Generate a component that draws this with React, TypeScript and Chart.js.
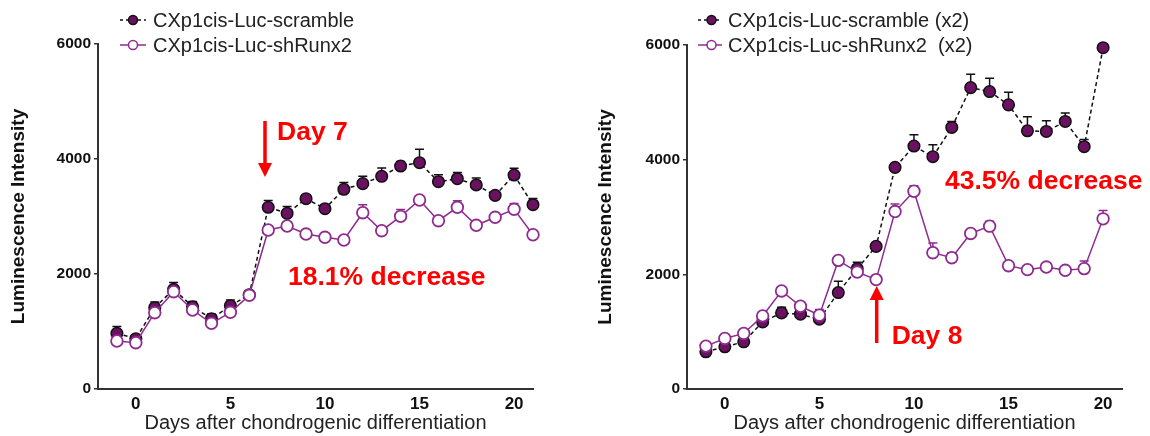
import React, { useEffect, useRef } from "react";
import { Chart, registerables } from "chart.js";

Chart.register(...registerables);

const FONT = "'Liberation Sans', Arial, Helvetica, sans-serif";
const DARK_PURPLE = "#6B1162";
const PURPLE = "#8E2B8E";

// ---------- Data: left panel ----------
const daysLeft = [-1, 0, 1, 2, 3, 4, 5, 6, 7, 8, 9, 10, 11, 12, 13, 14, 15, 16, 17, 18, 19, 20, 21];
const scrambleLeft = [968, 875, 1414, 1734, 1431, 1223, 1449, 1640, 3160, 3055, 3310, 3135, 3473, 3571, 3699, 3878, 3936, 3605, 3657, 3548, 3368, 3721, 3205];
const scrambleLeftErr = [120, 60, 100, 120, 90, 80, 100, 50, 120, 120, 50, 50, 120, 130, 145, 80, 233, 120, 110, 120, 60, 120, 110];
const shRunx2Left = [835, 805, 1327, 1692, 1374, 1142, 1334, 1630, 2765, 2835, 2695, 2638, 2591, 3066, 2753, 3003, 3287, 2927, 3160, 2847, 2986, 3125, 2683];
const shRunx2LeftErr = [50, 50, 50, 50, 50, 50, 50, 50, 50, 50, 50, 50, 50, 140, 50, 120, 50, 50, 115, 50, 50, 100, 50];

// ---------- Data: right panel ----------
const daysRight = [-1, 0, 1, 2, 3, 4, 5, 6, 7, 8, 9, 10, 11, 12, 13, 14, 15, 16, 17, 18, 19, 20];
const scrambleRight = [649, 736, 823, 1170, 1327, 1304, 1217, 1682, 2099, 2487, 3866, 4238, 4052, 4562, 5257, 5188, 4956, 4504, 4492, 4666, 4226, 5953];
const scrambleRightErr = [60, 60, 60, 60, 100, 60, 60, 197, 110, 60, 60, 197, 209, 104, 233, 233, 220, 243, 186, 150, 127, 0];
const shRunx2Right = [748, 882, 969, 1275, 1710, 1443, 1287, 2243, 2040, 1908, 3095, 3449, 2377, 2290, 2713, 2840, 2151, 2082, 2127, 2070, 2099, 2968];
const shRunx2RightErr = [50, 50, 50, 50, 50, 50, 100, 50, 50, 50, 133, 94, 168, 87, 50, 87, 50, 50, 50, 50, 133, 144];

// ---------- Axes ----------
const xTicks = [0, 5, 10, 15, 20];
const yTicks = [0, 2000, 4000, 6000];
const xMin = -2;
const xMax = 21;
const yMin = 0;
const yMax = 6000;

const xTitle = "Days after chondrogenic differentiation";
const yTitle = "Luminescence Intensity";

const legendLeft = ["CXp1cis-Luc-scramble", "CXp1cis-Luc-shRunx2"];
const legendRight = ["CXp1cis-Luc-scramble (x2)", "CXp1cis-Luc-shRunx2  (x2)"];

const errorBarPlugin = {
  id: "errorBars",
  beforeDatasetsDraw(chart: any) {
    const ctx = chart.ctx;
    const xs = chart.scales.x;
    const ys = chart.scales.y;
    chart.data.datasets.forEach((ds: any) => {
      const errs = ds.errors;
      if (!errs) return;
      ctx.save();
      ctx.strokeStyle = ds.errorColor;
      ctx.lineWidth = 1.5;
      ctx.setLineDash([]);
      ds.data.forEach((p: any, j: number) => {
        const e = errs[j];
        if (!e) return;
        const px = xs.getPixelForValue(p.x);
        const py = ys.getPixelForValue(p.y);
        const pe = ys.getPixelForValue(p.y + e);
        ctx.beginPath();
        ctx.moveTo(px, py);
        ctx.lineTo(px, pe);
        ctx.moveTo(px - 4.5, pe);
        ctx.lineTo(px + 4.5, pe);
        ctx.stroke();
      });
      ctx.restore();
    });
  },
};

type PanelProps = {
  days: number[];
  scramble: number[];
  scrambleErr: number[];
  sh: number[];
  shErr: number[];
  legend: string[];
  yAxisWidth: number;
  padRight: number;
  padTop: number;
  yTitlePad: number;
  legendGeom: { x1: number; x2: number; mx: number; tx: number };
  annotations: (ctx: CanvasRenderingContext2D) => void;
};

function drawArrow(ctx: CanvasRenderingContext2D, x: number, yTail: number, yTip: number) {
  const dir = yTip > yTail ? 1 : -1;
  const headLen = 14;
  const headHalf = 7;
  ctx.save();
  ctx.strokeStyle = "#FF0000";
  ctx.fillStyle = "#FF0000";
  ctx.lineWidth = 3.5;
  ctx.beginPath();
  ctx.moveTo(x, yTail);
  ctx.lineTo(x, yTip - dir * headLen);
  ctx.stroke();
  ctx.beginPath();
  ctx.moveTo(x - headHalf, yTip - dir * headLen);
  ctx.lineTo(x + headHalf, yTip - dir * headLen);
  ctx.lineTo(x, yTip);
  ctx.closePath();
  ctx.fill();
  ctx.restore();
}

function redText(ctx: CanvasRenderingContext2D, text: string, x: number, y: number) {
  ctx.save();
  ctx.fillStyle = "#FF0000";
  ctx.font = `bold 26.5px ${FONT}`;
  ctx.textAlign = "left";
  ctx.textBaseline = "middle";
  ctx.fillText(text, x, y);
  ctx.restore();
}

function Panel(props: PanelProps) {
  const ref = useRef<HTMLCanvasElement>(null);
  useEffect(() => {
    if (!ref.current) return;
    const { days, scramble, scrambleErr, sh, shErr, legend, legendGeom } = props;
    const overlay = {
      id: "overlay",
      afterDraw(chart: any) {
        const ctx: CanvasRenderingContext2D = chart.ctx;
        ctx.save();
        const rows = [20, 45];
        rows.forEach((ry, i) => {
          ctx.save();
          ctx.lineWidth = 1.5;
          if (i === 0) {
            ctx.strokeStyle = "#111";
            ctx.setLineDash([3, 3]);
          } else {
            ctx.strokeStyle = PURPLE;
          }
          ctx.beginPath();
          ctx.moveTo(legendGeom.x1, ry);
          ctx.lineTo(legendGeom.x2, ry);
          ctx.stroke();
          ctx.setLineDash([]);
          ctx.beginPath();
          ctx.arc(legendGeom.mx, ry, 4.5, 0, Math.PI * 2);
          if (i === 0) {
            ctx.fillStyle = DARK_PURPLE;
            ctx.strokeStyle = "#111";
          } else {
            ctx.fillStyle = "#fff";
            ctx.strokeStyle = PURPLE;
          }
          ctx.fill();
          ctx.stroke();
          ctx.restore();
          ctx.fillStyle = "#222";
          ctx.font = `20px ${FONT}`;
          ctx.textAlign = "left";
          ctx.textBaseline = "middle";
          ctx.fillText(legend[i], legendGeom.tx, ry + 1);
        });
        props.annotations(ctx);
        ctx.restore();
      },
    };

    const chart = new Chart(ref.current, {
      type: "line",
      data: {
        datasets: [
          {
            label: legend[1],
            data: days.map((d, i) => ({ x: d, y: sh[i] })),
            errors: shErr,
            errorColor: PURPLE,
            borderColor: PURPLE,
            borderWidth: 1.5,
            backgroundColor: "#ffffff",
            pointBackgroundColor: "#ffffff",
            pointBorderColor: PURPLE,
            pointBorderWidth: 1.8,
            pointRadius: 5.8,
            tension: 0,
            clip: false,
            order: 0,
          } as any,
          {
            label: legend[0],
            data: days.map((d, i) => ({ x: d, y: scramble[i] })),
            errors: scrambleErr,
            errorColor: "#111",
            borderColor: "#111",
            borderWidth: 1.5,
            borderDash: [4, 3],
            backgroundColor: DARK_PURPLE,
            pointBackgroundColor: DARK_PURPLE,
            pointBorderColor: "#111",
            pointBorderWidth: 1.5,
            pointRadius: 5.8,
            tension: 0,
            clip: false,
            order: 1,
          } as any,
        ],
      },
      options: {
        animation: false,
        responsive: false,
        maintainAspectRatio: false,
        events: [],
        layout: { padding: { left: 0, top: props.padTop, right: props.padRight, bottom: 0 } },
        plugins: {
          legend: { display: false },
          tooltip: { enabled: false },
          title: { display: false },
        },
        scales: {
          x: {
            type: "linear",
            min: xMin,
            max: xMax,
            afterBuildTicks: (scale: any) => {
              scale.ticks = xTicks.map((v) => ({ value: v }));
            },
            afterFit: (scale: any) => {
              scale.height = 47;
            },
            grid: { display: true, drawOnChartArea: false, drawTicks: false },
            border: { display: true, color: "#333", width: 2 },
            ticks: {
              autoSkip: false,
              maxRotation: 0,
              padding: 5,
              color: "#111",
              font: { family: FONT, size: 17, weight: "bold" },
              callback: (v: any) => String(v),
            },
            title: {
              display: true,
              text: xTitle,
              color: "#222",
              font: { family: FONT, size: 20 },
              padding: { top: 0, bottom: 1 },
            },
          },
          y: {
            type: "linear",
            min: yMin,
            max: yMax,
            afterBuildTicks: (scale: any) => {
              scale.ticks = yTicks.map((v) => ({ value: v }));
            },
            afterFit: (scale: any) => {
              scale.width = props.yAxisWidth;
            },
            grid: { display: true, drawOnChartArea: false, drawTicks: true, tickLength: 4, color: "#333", lineWidth: 1.5 },
            border: { display: true, color: "#333", width: 2 },
            ticks: {
              padding: 3,
              color: "#111",
              font: { family: FONT, size: 15.5, weight: "bold" },
              callback: (v: any) => String(v),
            },
            title: {
              display: true,
              text: yTitle,
              color: "#111",
              font: { family: FONT, size: 19, weight: "bold" },
              padding: { top: props.yTitlePad, bottom: 0 },
            },
          },
        },
      } as any,
      plugins: [errorBarPlugin, overlay],
    });
    return () => chart.destroy();
  }, []);
  return <canvas ref={ref} width={575} height={436} style={{ display: "block", width: 575, height: 436 }} />;
}

export default function App() {
  return (
    <div style={{ position: "absolute", left: 0, top: 0, width: 1150, height: 436, background: "#fff", display: "flex" }}>
      <Panel
        days={daysLeft}
        scramble={scrambleLeft}
        scrambleErr={scrambleLeftErr}
        sh={shRunx2Left}
        shErr={shRunx2LeftErr}
        legend={legendLeft}
        yAxisWidth={98}
        padRight={42}
        padTop={44}
        yTitlePad={7}
        legendGeom={{ x1: 120, x2: 146, mx: 133, tx: 153 }}
        annotations={(ctx) => {
          drawArrow(ctx, 265, 121, 177);
          redText(ctx, "Day 7", 277, 133);
          redText(ctx, "18.1% decrease", 288, 278);
        }}
      />
      <Panel
        days={daysRight}
        scramble={scrambleRight}
        scrambleErr={scrambleRightErr}
        sh={shRunx2Right}
        shErr={shRunx2RightErr}
        legend={legendRight}
        yAxisWidth={112}
        padRight={28}
        padTop={45}
        yTitlePad={19}
        legendGeom={{ x1: 123, x2: 147, mx: 136.5, tx: 153 }}
        annotations={(ctx) => {
          drawArrow(ctx, 301.7, 343, 286);
          redText(ctx, "Day 8", 316.7, 337);
          redText(ctx, "43.5% decrease", 370, 182);
        }}
      />
    </div>
  );
}
